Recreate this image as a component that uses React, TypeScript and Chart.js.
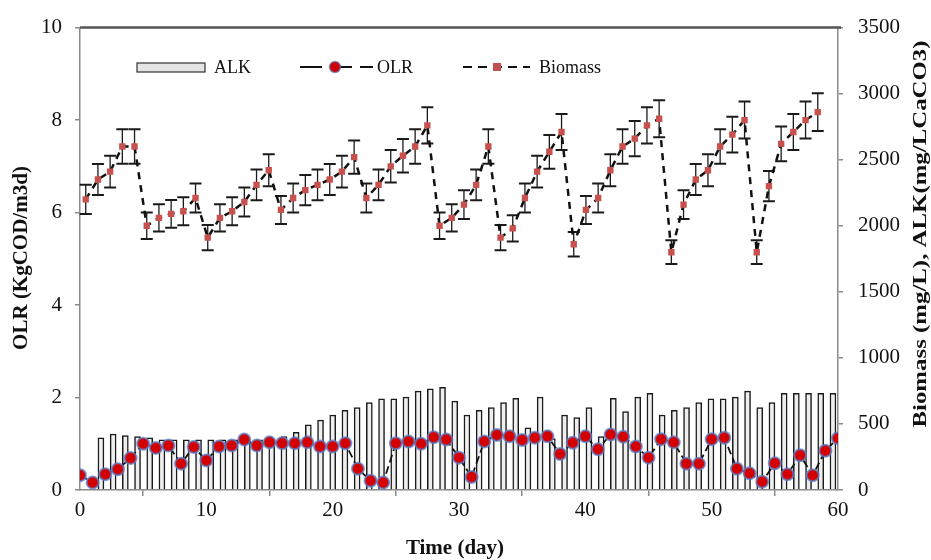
import { useEffect, useRef } from "react";
import { Chart, registerables } from "chart.js";
Chart.register(...registerables);

// Day axis (OLR) categories
const days = [0,1,2,3,4,5,6,7,8,9,10,11,12,13,14,15,16,17,18,19,20,21,22,23,24,25,26,27,28,29,30,31,32,33,34,35,36,37,38,39,40,41,42,43,44,45,46,47,48,49,50,51,52,53,54,55,56,57,58,59,60];
// Secondary (sample) axis categories for Biomass and ALK
const biomassIdx = [0,1,2,3,4,5,6,7,8,9,10,11,12,13,14,15,16,17,18,19,20,21,22,23,24,25,26,27,28,29,30,31,32,33,34,35,36,37,38,39,40,41,42,43,44,45,46,47,48,49,50,51,52,53,54,55,56,57,58,59,60];
const alkIdx = [1,2,3,4,5,6,7,8,9,10,11,12,13,14,15,16,17,18,19,20,21,22,23,24,25,26,27,28,29,30,31,32,33,34,35,36,37,38,39,40,41,42,43,44,45,46,47,48,49,50,51,52,53,54,55,56,57,58,59,60,61];

const olr = [0.32,0.16,0.34,0.45,0.69,1.0,0.91,0.96,0.57,0.93,0.64,0.94,0.96,1.09,0.96,1.03,1.01,1.01,1.03,0.94,0.94,1.01,0.46,0.2,0.16,1.01,1.05,1.0,1.14,1.09,0.7,0.28,1.05,1.19,1.16,1.08,1.13,1.16,0.78,1.02,1.16,0.88,1.2,1.15,0.94,0.7,1.1,1.03,0.57,0.57,1.1,1.13,0.46,0.36,0.18,0.58,0.34,0.75,0.32,0.85,1.12];

const biomass = [2200,2350,2410,2600,2600,2000,2060,2090,2110,2210,1910,2060,2110,2180,2310,2420,2120,2210,2270,2310,2350,2410,2520,2210,2310,2450,2530,2600,2760,2000,2060,2160,2310,2600,1910,1980,2210,2410,2560,2710,1860,2120,2210,2420,2600,2660,2760,2810,1800,2160,2350,2420,2600,2690,2800,1800,2300,2620,2710,2800,2860];
const biomassErr = [110,118,120,130,130,100,103,105,106,110,96,103,106,109,116,121,106,110,114,116,118,120,126,110,116,123,127,130,138,100,103,108,116,130,96,99,110,120,128,136,93,106,110,121,130,133,138,140,90,108,118,121,130,135,140,90,115,131,136,140,143];

const alk = [394,424,411,404,394,379,379,379,379,379,379,379,380,379,379,404,436,494,529,568,603,623,661,691,691,703,748,765,778,673,568,603,623,661,693,470,703,390,568,548,623,404,693,593,703,731,568,603,623,661,691,691,703,748,623,661,731,731,731,731,731];

const SERIF = "'Liberation Serif', 'Times New Roman', serif";

const errorBarPlugin = {
  id: "errorBars",
  beforeDatasetsDraw(chart: any) {
    const meta = chart.getDatasetMeta(1);
    const ys = chart.scales.y2;
    const ctx = chart.ctx;
    ctx.save();
    ctx.strokeStyle = "#1a1a1a";
    meta.data.forEach((pt: any, i: number) => {
      const x = pt.x;
      const top = ys.getPixelForValue(biomass[i] + biomassErr[i]);
      const bot = ys.getPixelForValue(biomass[i] - biomassErr[i]);
      ctx.lineWidth = 1.3;
      ctx.beginPath();
      ctx.moveTo(x, top);
      ctx.lineTo(x, bot);
      ctx.stroke();
      ctx.lineWidth = 2;
      ctx.beginPath();
      ctx.moveTo(x - 6, top);
      ctx.lineTo(x + 6, top);
      ctx.moveTo(x - 6, bot);
      ctx.lineTo(x + 6, bot);
      ctx.stroke();
    });
    ctx.restore();
  },
};

const decorPlugin = {
  id: "decor",
  afterDraw(chart: any) {
    const ctx = chart.ctx;
    const ca = chart.chartArea;
    ctx.save();
    // top frame line
    ctx.strokeStyle = "#555";
    ctx.lineWidth = 2.5;
    ctx.beginPath();
    ctx.moveTo(ca.left, ca.top);
    ctx.lineTo(ca.right + 3, ca.top);
    ctx.stroke();

    // titles
    ctx.fillStyle = "#111";
    ctx.textAlign = "center";
    ctx.textBaseline = "middle";
    ctx.font = `bold 21px ${SERIF}`;
    ctx.fillText("Time (day)", 455, 549);

    ctx.save();
    ctx.translate(22, 258);
    ctx.rotate(-Math.PI / 2);
    ctx.font = `bold 21px ${SERIF}`;
    ctx.fillText("OLR (KgCOD/m3d)", 0, 0);
    ctx.restore();

    ctx.save();
    ctx.translate(921, 234);
    ctx.rotate(-Math.PI / 2);
    ctx.scale(1.38, 1);
    ctx.font = `bold 18px ${SERIF}`;
    ctx.fillText("Biomass (mg/L), ALK(mg/LCaCO3)", 0, 0);
    ctx.restore();

    // legend
    const ly = 67;
    ctx.textAlign = "left";
    ctx.font = `18px ${SERIF}`;
    // ALK swatch
    ctx.fillStyle = "#e4e4e4";
    ctx.fillRect(137, 63, 68, 9);
    ctx.strokeStyle = "#333";
    ctx.lineWidth = 1.2;
    ctx.strokeRect(137, 63, 68, 9);
    ctx.fillStyle = "#111";
    ctx.fillText("ALK", 214, ly + 1);
    // OLR swatch
    ctx.strokeStyle = "#111";
    ctx.lineWidth = 2;
    ctx.setLineDash([22, 8]);
    ctx.beginPath();
    ctx.moveTo(300, ly);
    ctx.lineTo(373, ly);
    ctx.stroke();
    ctx.setLineDash([]);
    ctx.beginPath();
    ctx.arc(335, ly, 5.5, 0, Math.PI * 2);
    ctx.fillStyle = "#d00000";
    ctx.fill();
    ctx.strokeStyle = "rgba(90,120,190,0.7)";
    ctx.lineWidth = 1.5;
    ctx.stroke();
    ctx.fillStyle = "#111";
    ctx.fillText("OLR", 377, ly + 1);
    // Biomass swatch
    ctx.strokeStyle = "#111";
    ctx.lineWidth = 2;
    ctx.setLineDash([9, 6]);
    ctx.beginPath();
    ctx.moveTo(463, ly);
    ctx.lineTo(530, ly);
    ctx.stroke();
    ctx.setLineDash([]);
    ctx.fillStyle = "#c0504d";
    ctx.fillRect(493, ly - 4, 8, 8);
    ctx.fillStyle = "#111";
    ctx.fillText("Biomass", 539, ly + 1);
    ctx.restore();
  },
};

export default function App() {
  const ref = useRef<HTMLCanvasElement | null>(null);
  useEffect(() => {
    if (!ref.current) return;
    const tickFont = { family: SERIF, size: 21 };
    const plain = (v: any) => String(v);
    const chart = new Chart(ref.current, {
      type: "bar",
      data: {
        datasets: [
          {
            type: "line",
            label: "OLR",
            data: days.map((d, i) => ({ x: d, y: olr[i] })),
            xAxisID: "x",
            yAxisID: "y",
            borderColor: "#111",
            borderWidth: 1.8,
            borderDash: [8, 4],
            pointStyle: "circle",
            pointRadius: 6,
            pointBackgroundColor: "#d40000",
            pointBorderColor: "rgba(90,125,200,0.75)",
            pointBorderWidth: 2,
            tension: 0,
            order: 0,
          } as any,
          {
            type: "line",
            label: "Biomass",
            data: biomassIdx.map((d, i) => ({ x: d, y: biomass[i] })),
            xAxisID: "x2",
            yAxisID: "y2",
            borderColor: "#111",
            borderWidth: 2.5,
            borderDash: [7, 6],
            pointStyle: "rect",
            pointRadius: 4.5,
            pointBackgroundColor: "#c8504d",
            pointBorderColor: "#c8504d",
            pointBorderWidth: 0,
            tension: 0,
            order: 1,
          } as any,
          {
            type: "bar",
            label: "ALK",
            data: alkIdx.map((d, i) => ({ x: d, y: alk[i] })),
            xAxisID: "x2",
            yAxisID: "y2",
            backgroundColor: "#eeeeee",
            borderColor: "#1a1a1a",
            borderWidth: 1.5,
            barThickness: 6,
            order: 2,
          } as any,
        ],
      },
      options: {
        animation: false,
        responsive: false,
        layout: { padding: { top: 22 } },
        plugins: { legend: { display: false }, tooltip: { enabled: false } },
        scales: {
          x: {
            type: "linear",
            position: "bottom",
            min: 0,
            max: 60,
            offset: false,
            ticks: { stepSize: 10, font: tickFont, color: "#111", padding: 2, callback: plain },
            grid: { drawOnChartArea: false, tickLength: 6, color: "#8a8a8a", lineWidth: 1.5 },
            border: { color: "#8a8a8a", width: 1.5 },
            afterFit: (s: any) => { s.height = 70; },
          },
          x2: {
            type: "linear",
            display: false,
            min: -0.47,
            max: 61.66,
            offset: false,
          },
          y: {
            position: "left",
            min: 0,
            max: 10,
            ticks: { stepSize: 2, font: tickFont, color: "#111", padding: 13, callback: plain },
            grid: { drawOnChartArea: false, tickLength: 5, color: "#8a8a8a", lineWidth: 1.5 },
            border: { color: "#8a8a8a", width: 1.5 },
            afterFit: (s: any) => { s.width = 80; },
          },
          y2: {
            position: "right",
            min: 0,
            max: 3500,
            ticks: { stepSize: 500, font: tickFont, color: "#111", padding: 15, callback: plain },
            grid: { drawOnChartArea: false, tickLength: 5, color: "#8a8a8a", lineWidth: 1.5 },
            border: { color: "#8a8a8a", width: 1.5 },
            afterFit: (s: any) => { s.width = 93; },
          },
        },
      } as any,
      plugins: [errorBarPlugin, decorPlugin],
    });
    return () => chart.destroy();
  }, []);
  return (
    <div style={{ position: "absolute", left: 0, top: 0, width: 931, height: 560, background: "#fff" }}>
      <canvas ref={ref} width={931} height={560} />
    </div>
  );
}
